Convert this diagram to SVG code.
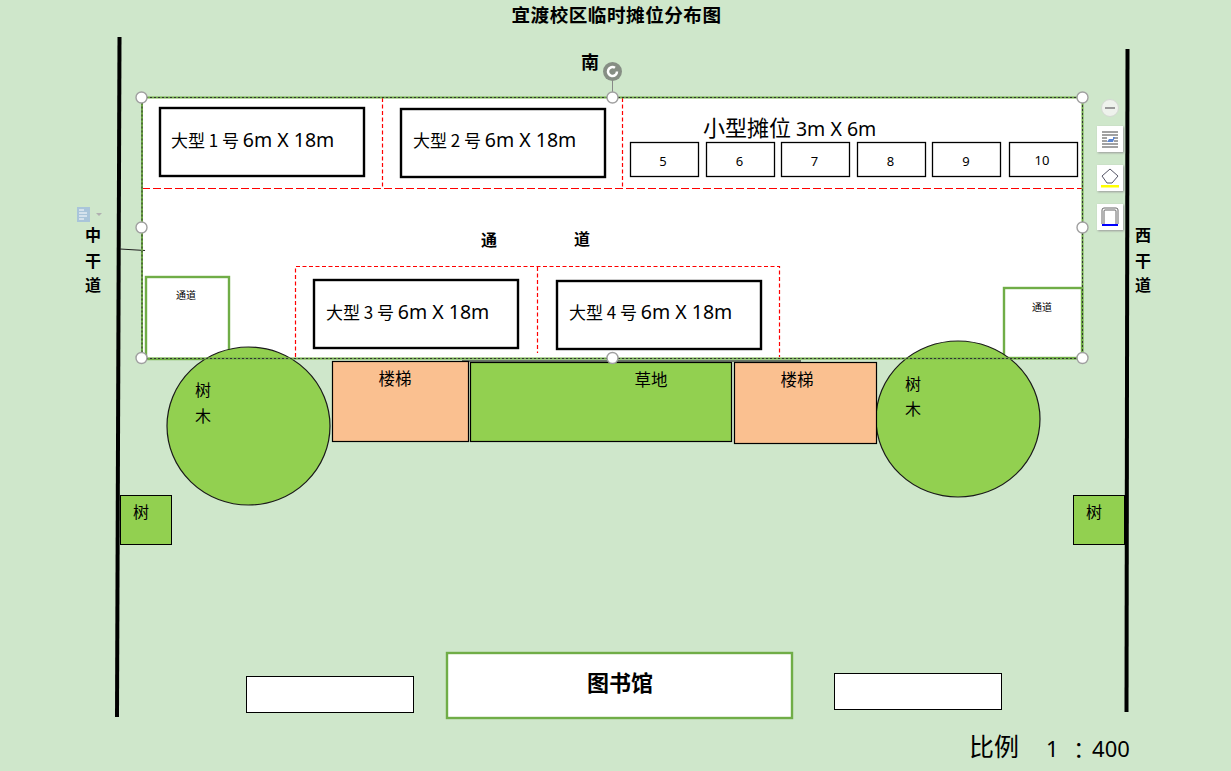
<svg xmlns="http://www.w3.org/2000/svg" width="1231" height="771" viewBox="0 0 1231 771">
<style>
text{font-family:"Noto Sans","Noto Sans CJK SC",sans-serif;fill:#000}
.cjk{font-family:"Noto Sans CJK SC",sans-serif}
.ser{font-family:"Noto Sans CJK SC",serif;font-weight:700}
.big{fill:#fff;stroke:#000;stroke-width:2.4}
.small{fill:#fff;stroke:#000;stroke-width:1.3}
.plain{fill:#fff;stroke:#000;stroke-width:1}
.gbox{fill:#fff;stroke:#70ad47;stroke-width:2.4}
.dashh{fill:none;stroke:#f00;stroke-width:1.2;stroke-dasharray:8 3}
.dash{fill:none;stroke:#f00;stroke-width:1.2;stroke-dasharray:4 2.500}
.tree{fill:#92d050;stroke:#1a1a1a;stroke-width:1.200}
.stair{fill:#fac090;stroke:#000;stroke-width:1.200}
.road{stroke:#000;stroke-width:4;fill:none}
.h{fill:#fff;stroke:#a0a0a0;stroke-width:1.400}
.tool{fill:#fff;filter:drop-shadow(1px 1px 1px #999)}
.m{text-anchor:middle}
</style>
<rect width="1231" height="771" fill="#cfe7cb"/>

<g id="site">
<rect x="142" y="97" width="940" height="261" fill="#fff"/>
</g>

<g id="connectors">
<path class="road" d="M119.500 37L117 717"/>
<path class="road" d="M1127.500 49L1126.500 712"/>
<path d="M120 249L145 250.500" stroke="#222" stroke-width="1.200" fill="none"/>
<path class="dashh" d="M142 188.500H1082"/>
<path class="dash" d="M382.500 98V188M622.500 98V188"/>
<path class="dash" d="M295.500 357V266.500H779.500V357M537.500 267V353"/>
<path d="M462 361H801" stroke="#000" stroke-width="1"/>
</g>

<g id="title"><text class="ser m" x="616.500" y="22" font-size="18.600" letter-spacing="0.500">宜渡校区临时摊位分布图</text></g>
<g id="south"><text class="ser" x="581" y="69" font-size="18">南</text></g>

<g id="stall-1"><rect class="big" x="160" y="108" width="204" height="68"/><text x="171" y="147"><tspan class="cjk" font-size="17">大型 1 号 </tspan><tspan font-size="19.500">6m X 18m</tspan></text></g>
<g id="stall-2"><rect class="big" x="401" y="109" width="204" height="68"/><text x="413" y="147"><tspan class="cjk" font-size="17">大型 2 号 </tspan><tspan font-size="19.500">6m X 18m</tspan></text></g>
<g id="stall-3"><rect class="big" x="314" y="280" width="204" height="68"/><text x="326" y="319"><tspan class="cjk" font-size="17">大型 3 号 </tspan><tspan font-size="19.500">6m X 18m</tspan></text></g>
<g id="stall-4"><rect class="big" x="557" y="281" width="204" height="68"/><text x="569" y="319"><tspan class="cjk" font-size="17">大型 4 号 </tspan><tspan font-size="19.500">6m X 18m</tspan></text></g>

<g id="small-label"><text x="703" y="136"><tspan class="cjk" font-size="22">小型摊位 </tspan><tspan font-size="19.500">3m X 6m</tspan></text></g>
<g id="small-5"><rect class="small" x="630.500" y="142.500" width="68" height="34"/><text class="m" x="663" y="166" font-size="13">5</text></g>
<g id="small-6"><rect class="small" x="706.500" y="142.500" width="68" height="34"/><text class="m" x="739.500" y="166" font-size="13">6</text></g>
<g id="small-7"><rect class="small" x="781.500" y="142.500" width="68" height="34"/><text class="m" x="814.500" y="166" font-size="13">7</text></g>
<g id="small-8"><rect class="small" x="857.500" y="142.500" width="68" height="34"/><text class="m" x="890.500" y="166" font-size="13">8</text></g>
<g id="small-9"><rect class="small" x="932.500" y="142.500" width="68" height="34"/><text class="m" x="966" y="166" font-size="13">9</text></g>
<g id="small-10"><rect class="small" x="1009.500" y="142.500" width="68" height="34"/><text class="m" x="1042" y="165" font-size="13">10</text></g>

<g id="aisle-label"><text class="ser" x="481" y="246" font-size="16">通</text><text class="ser" x="574" y="245" font-size="16">道</text></g>
<g id="road-west"><text class="ser m" x="93" y="241" font-size="16">中</text><text class="ser m" x="93" y="267" font-size="16">干</text><text class="ser m" x="93" y="291" font-size="16">道</text></g>
<g id="road-east"><text class="ser m" x="1143" y="241" font-size="16">西</text><text class="ser m" x="1143" y="267" font-size="16">干</text><text class="ser m" x="1143" y="291" font-size="16">道</text></g>

<g id="passage-left"><rect class="gbox" x="146" y="277" width="83" height="82"/><text class="cjk m" x="186" y="299" font-size="10">通道</text></g>
<g id="passage-right"><rect class="gbox" x="1004" y="288" width="78" height="70"/><text class="cjk m" x="1042" y="311" font-size="10">通道</text></g>

<g id="tree-left"><ellipse class="tree" cx="248.500" cy="426" rx="81.500" ry="79"/><text class="cjk" x="195" y="396" font-size="16">树</text><text class="cjk" x="195" y="422" font-size="16">木</text></g>
<g id="tree-right"><ellipse class="tree" cx="958" cy="419" rx="82" ry="78"/><text class="cjk" x="905" y="390" font-size="16">树</text><text class="cjk" x="905" y="415" font-size="16">木</text></g>
<g id="stair-left"><rect class="stair" x="332.500" y="361.500" width="136" height="80"/><text class="cjk m" x="395" y="385" font-size="16.500">楼梯</text></g>
<g id="lawn"><rect x="470.500" y="362.500" width="261" height="79" fill="#92d050" stroke="#000" stroke-width="1.200"/><text class="cjk m" x="651" y="386" font-size="16.500">草地</text></g>
<g id="stair-right"><rect class="stair" x="734.500" y="362.500" width="142" height="81"/><text class="cjk m" x="797" y="386" font-size="16.500">楼梯</text></g>
<g id="bush-left"><rect x="120.500" y="495.500" width="51" height="49" fill="#92d050" stroke="#000" stroke-width="1"/><text class="cjk" x="133" y="518" font-size="16">树</text></g>
<g id="bush-right"><rect x="1073.500" y="495.500" width="51" height="49" fill="#92d050" stroke="#000" stroke-width="1"/><text class="cjk" x="1086" y="518" font-size="16">树</text></g>

<g id="library"><rect class="gbox" x="447" y="653" width="345" height="65"/><text class="ser m" x="620" y="691" font-size="22">图书馆</text></g>
<g id="building-left"><rect class="plain" x="246.500" y="676.500" width="167" height="36"/></g>
<g id="building-right"><rect class="plain" x="834.500" y="673.500" width="167" height="36"/></g>
<g id="scale"><text x="969" y="756" class="cjk" font-size="25">比例</text><text x="1046" y="757" font-size="22">1 <tspan dx="9">：</tspan><tspan dx="-9"> 400</tspan></text></g>

<g id="selection">
<rect x="142" y="97.500" width="940.500" height="261" fill="none" stroke="#70ad47" stroke-width="2"/>
<rect x="142" y="97.500" width="940.500" height="261" fill="none" stroke="#333" stroke-width="1" stroke-dasharray="2 2"/>
<path d="M612.500 78V97" stroke="#888" stroke-width="1"/>
<circle cx="612.500" cy="71.500" r="9.500" fill="#868e84"/>
<path d="M617 71.500a4.500 4.500 0 1 1-2-3.700" fill="none" stroke="#fff" stroke-width="2.500"/>
<circle class="h" cx="141.500" cy="97.500" r="5.500"/><circle class="h" cx="612.500" cy="97.500" r="5.500"/><circle class="h" cx="1082.500" cy="97.500" r="5.500"/>
<circle class="h" cx="141.500" cy="227.500" r="5.500"/><circle class="h" cx="1082.500" cy="227.500" r="5.500"/>
<circle class="h" cx="141.500" cy="358" r="5.500"/><circle class="h" cx="612.500" cy="358" r="5.500"/><circle class="h" cx="1082.500" cy="358" r="5.500"/>
</g>

<g id="toolbar">
<rect x="77" y="207" width="13" height="15" fill="#a9c5da"/><path d="M79 210h5M79 213h8M79 216h8M79 219h5" stroke="#fff" stroke-width="1"/><path d="M96 213h6l-3 3z" fill="#b0b0b0"/>
<circle cx="1110" cy="108" r="8.500" fill="#eef2ec" stroke="#d5d9d3"/><rect x="1105" y="107" width="10" height="2" fill="#999"/>
<rect class="tool" x="1097" y="126" width="26" height="26"/><path d="M1102 132h16M1102 135h16M1102 138h5M1114 138h4M1102 141h5M1114 141h4M1102 144h16M1102 147h16" stroke="#444" stroke-width="1"/><path d="M1107 142l2-3h4v-2h2l-2 5z" fill="#5b85d0"/>
<rect class="tool" x="1097" y="165" width="26" height="26"/><path d="M1102 176l8-7 8 7-6 7h-5z" fill="none" stroke="#556" stroke-width="1"/><rect x="1101" y="185" width="18" height="2.500" fill="#ff0"/>
<rect class="tool" x="1097" y="204" width="26" height="26"/><path d="M1102 224v-14a2 2 0 0 1 2-2h12a2 2 0 0 1 2 2v14M1104 224v-13a1 1 0 0 1 1-1h10a1 1 0 0 1 1 1v13" fill="none" stroke="#666" stroke-width="1"/><rect x="1102" y="224" width="16" height="2" fill="#00f"/>
</g>
</svg>
